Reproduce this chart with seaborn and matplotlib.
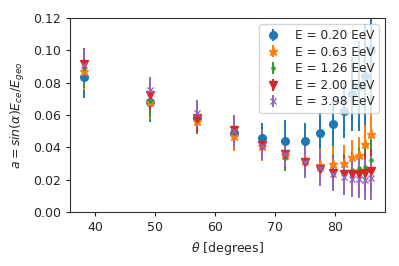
import numpy as np
import matplotlib
matplotlib.use("Agg")
import matplotlib.pyplot as plt
import seaborn as sns

# zenith angles (degrees)
theta = [38.2, 49.2, 56.9, 63.1, 67.8, 71.7, 74.9, 77.5, 79.6, 81.4, 82.8, 84.0, 85.0, 85.9]

energies = ["0.20", "0.63", "1.26", "2.00", "3.98"]

a_020 = [0.0838, 0.0679, 0.0580, 0.0488, 0.0459, 0.0440, 0.0439, 0.0490, 0.0545, 0.0627, 0.0730, 0.0780, 0.0842, 0.1000]
e_020 = [0.0135, 0.0120, 0.0090, 0.0110, 0.0090, 0.0130, 0.0110, 0.0130, 0.0150, 0.0170, 0.0230, 0.0280, 0.0320, 0.0400]

a_063 = [0.0875, 0.0683, 0.0563, 0.0470, 0.0410, 0.0350, 0.0320, 0.0290, 0.0298, 0.0302, 0.0340, 0.0352, 0.0418, 0.0482]
e_063 = [0.0120, 0.0110, 0.0080, 0.0090, 0.0095, 0.0090, 0.0090, 0.0100, 0.0110, 0.0110, 0.0105, 0.0110, 0.0120, 0.0126]

a_126 = [0.0890, 0.0690, 0.0570, 0.0490, 0.0410, 0.0335, 0.0310, 0.0275, 0.0250, 0.0250, 0.0262, 0.0273, 0.0279, 0.0320]
e_126 = [0.0120, 0.0100, 0.0085, 0.0090, 0.0090, 0.0082, 0.0090, 0.0100, 0.0100, 0.0110, 0.0110, 0.0120, 0.0125, 0.0130]

a_200 = [0.0916, 0.0724, 0.0583, 0.0507, 0.0414, 0.0358, 0.0310, 0.0269, 0.0242, 0.0234, 0.0236, 0.0234, 0.0242, 0.0254]
e_200 = [0.0100, 0.0090, 0.0085, 0.0093, 0.0090, 0.0085, 0.0090, 0.0100, 0.0105, 0.0115, 0.0120, 0.0125, 0.0130, 0.0135]

a_398 = [0.0910, 0.0755, 0.0610, 0.0500, 0.0410, 0.0357, 0.0310, 0.0270, 0.0234, 0.0217, 0.0207, 0.0207, 0.0201, 0.0210]
e_398 = [0.0100, 0.0083, 0.0083, 0.0100, 0.0090, 0.0080, 0.0100, 0.0110, 0.0105, 0.0112, 0.0115, 0.0120, 0.0125, 0.0137]

series = [a_020, a_063, a_126, a_200, a_398]
errors = [e_020, e_063, e_126, e_200, e_398]
markers = ["o", "*", ".", "v", "x"]
sizes = [5.5, 6.5, 4.5, 5.5, 5.0]

sns.set_style("ticks")
plt.rcParams["font.family"] = ["DejaVu Sans"]
colores = sns.color_palette("tab10")

fig = plt.figure(figsize=(3.99, 2.66), dpi=100)
ax = fig.add_axes([0.175, 0.203, 0.79, 0.729])

for i, (vals, errs) in enumerate(zip(series, errors)):
    ax.errorbar(theta, vals, yerr=errs, fmt=markers[i], color=colores[i],
                markersize=sizes[i], elinewidth=1.4, capsize=0,
                label="E = " + energies[i] + " EeV")

ax.set_xlim(35.8, 88.3)
ax.set_ylim(0, 0.12)
ax.set_xticks([40, 50, 60, 70, 80])
ax.set_yticks([0.0, 0.02, 0.04, 0.06, 0.08, 0.10, 0.12])
ax.set_yticklabels(["0.00", "0.02", "0.04", "0.06", "0.08", "0.10", "0.12"])
ax.tick_params(labelsize=9, length=3)
for s in ax.spines.values():
    s.set_color("0.2")
    s.set_linewidth(0.8)
ax.set_xlabel(r"$\theta$ [degrees]", fontsize=9)
ax.set_ylabel(r"$a = sin(\alpha) E_{ce}/E_{geo}$", fontsize=9)
ax.legend(loc="upper right", fontsize=8.7, handlelength=1.4, handletextpad=1.1,
          labelspacing=0.3, borderpad=0.4, framealpha=0.8, borderaxespad=0.5)

plt.savefig("out.png", dpi=100)
